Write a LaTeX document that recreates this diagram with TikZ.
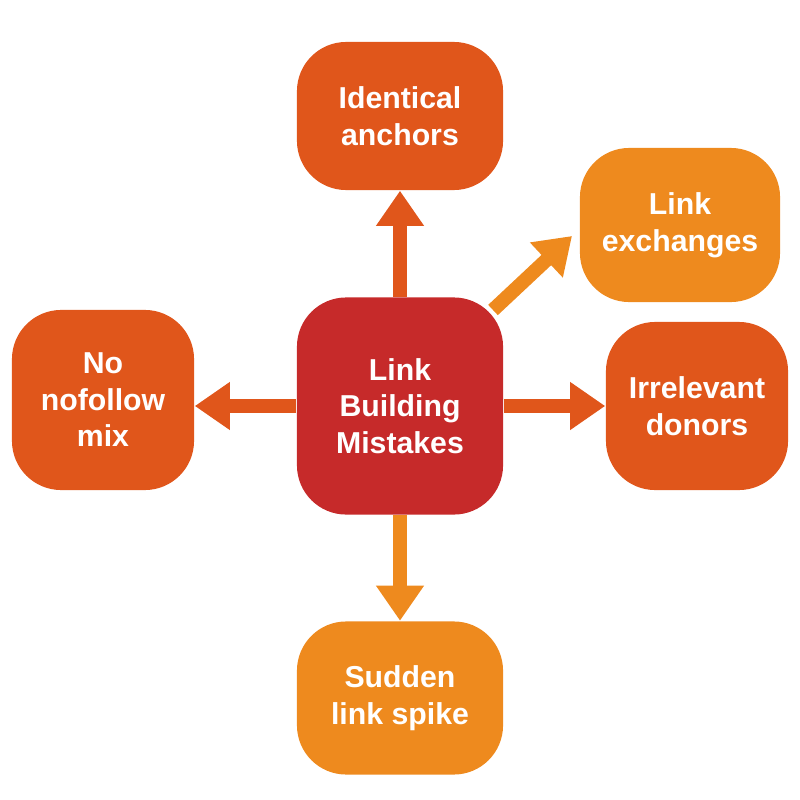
\documentclass[tikz,border=0pt]{standalone}
\usepackage{fontspec}
\setmainfont{Liberation Sans}
\usetikzlibrary{arrows.meta}
\definecolor{cred}{HTML}{C62A2A}
\definecolor{cor}{HTML}{E0561B}
\definecolor{clt}{HTML}{EE8A1E}
\begin{document}
\begin{tikzpicture}[x=0.01cm,y=-0.01cm,
 box/.style={rounded corners=14pt,inner sep=0pt,text=white,align=center,
   font=\fontsize{8.6pt}{10.4pt}\selectfont\bfseries},
 arr/.style={line width=4pt,-{Triangle[length=10pt,width=13pt]}}]
\useasboundingbox (0,0) rectangle (800,800);
\node[box,fill=cred,minimum width=206\pgflinewidth*0+5.86cm*0+2.06cm,minimum height=2.17cm] (c) at (400,406) {Link\\Building\\Mistakes};
\node[box,fill=cor,minimum width=2.06cm,minimum height=1.48cm] (t) at (400,116) {Identical\\anchors};
\node[box,fill=clt,minimum width=2.0cm,minimum height=1.54cm] (e) at (680,225) {Link\\exchanges};
\node[box,fill=cor,minimum width=1.82cm,minimum height=1.68cm] (r) at (697,406) {Irrelevant\\donors};
\node[box,fill=cor,minimum width=1.82cm,minimum height=1.80cm] (l) at (103,400) {No\\nofollow\\mix};
\node[box,fill=clt,minimum width=2.06cm,minimum height=1.53cm] (b) at (400,698) {Sudden\\link spike};
\draw[arr,cor] (c.north) -- (t.south);
\draw[arr,cor] (c.east) -- (r.west);
\draw[arr,cor] (c.west) -- (l.east|-c.west);
\draw[arr,clt] (c.south) -- (b.north);
\coordinate (d1) at (493,310);
\coordinate (d2) at (572,236);
\draw[arr,clt] (d1) -- (d2);
\end{tikzpicture}
\end{document}
